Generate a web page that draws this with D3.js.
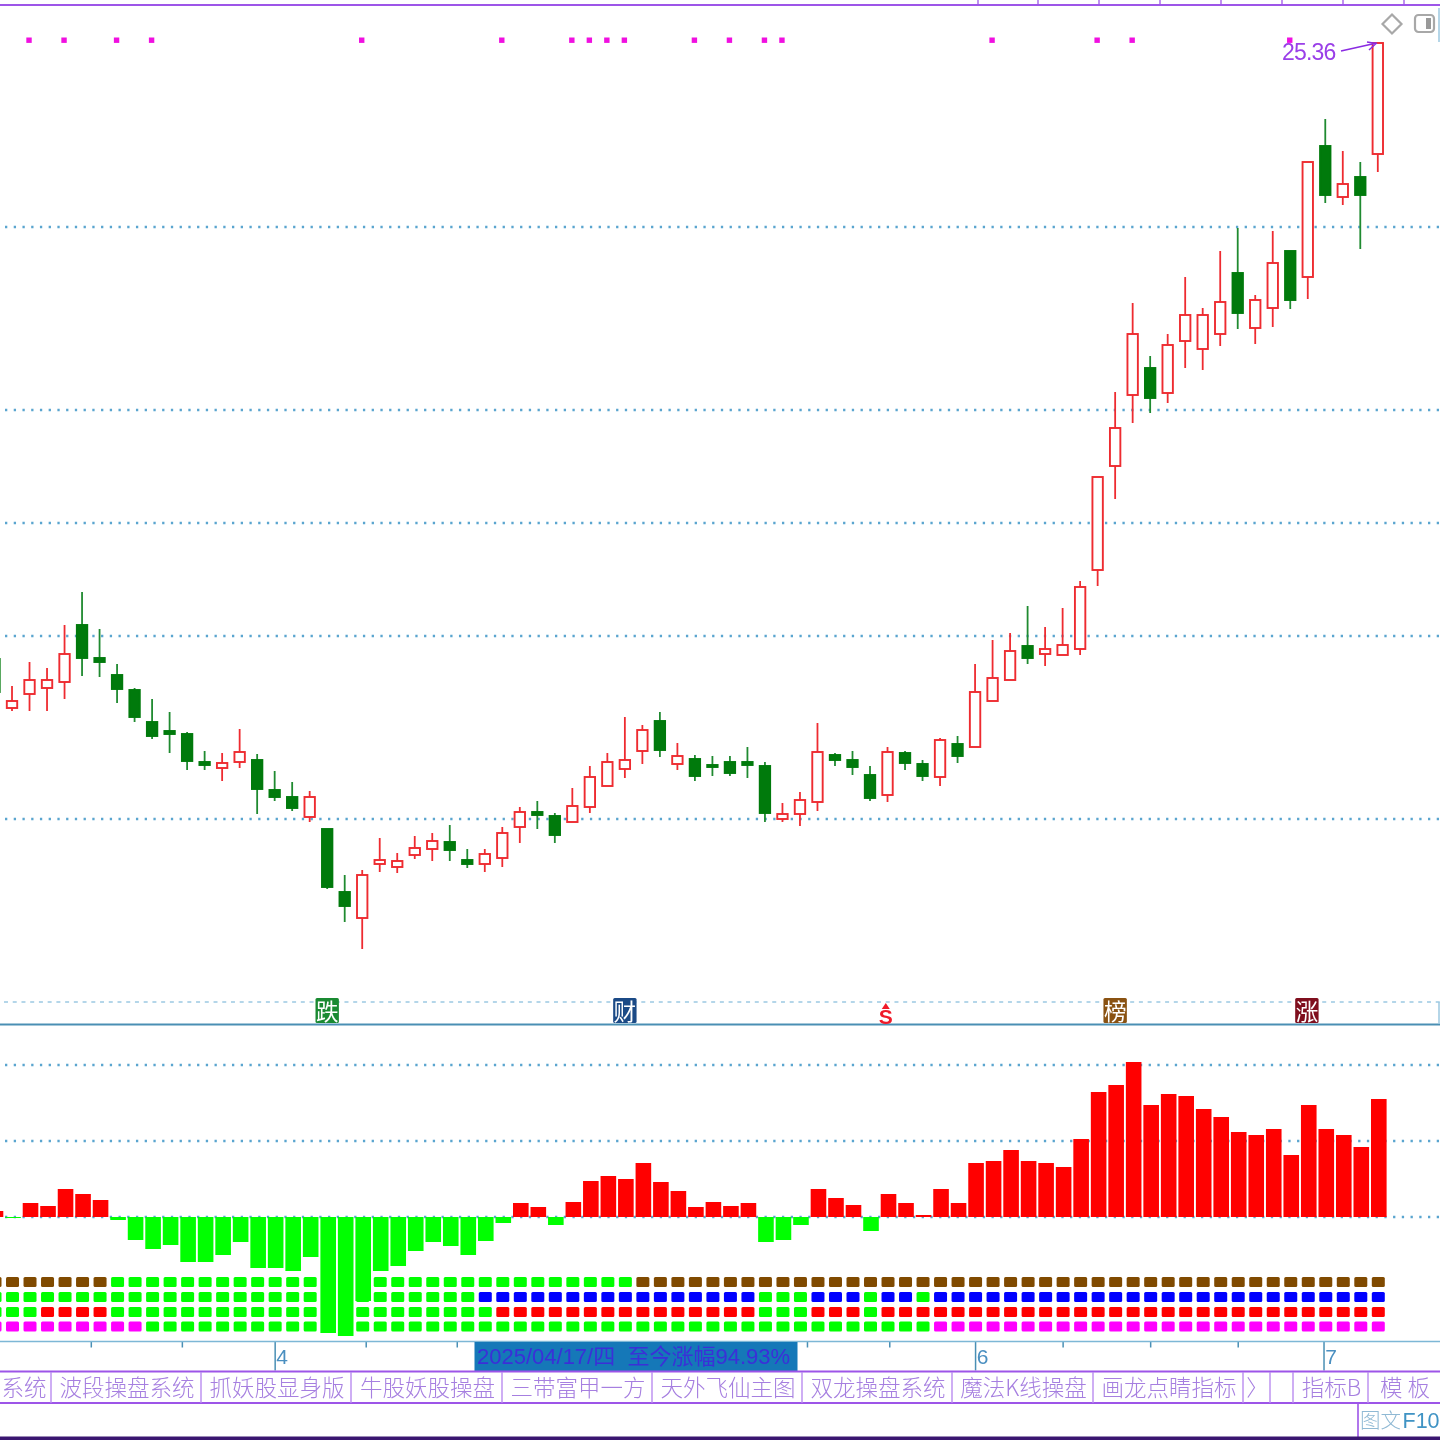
<!DOCTYPE html>
<html>
<head>
<meta charset="utf-8">
<script src="https://cdn.jsdelivr.net/npm/d3@7/dist/d3.min.js"></script>
<style>
html,body{margin:0;padding:0;background:#fff;width:1440px;height:1440px;overflow:hidden}
svg{display:block;filter:blur(0.6px)}
text{font-family:"Liberation Sans","Noto Sans CJK SC",sans-serif}
</style>
</head>
<body>
<svg id="chart" width="1440" height="1440"></svg>
<script>
const openPrice = [13.04,12.06,12.34,12.46,12.58,13.72,13.06,12.72,12.42,11.78,
  11.60,11.54,10.98,10.86,10.98,11.02,10.42,10.28,9.88,9.64,
  8.38,7.86,8.94,8.88,9.12,9.24,9.38,9.02,8.94,9.06,
  9.68,9.98,9.90,9.78,10.08,10.50,10.84,11.20,11.80,10.94,
  11.04,10.92,10.98,10.98,10.90,9.84,9.94,10.18,11.12,11.02,
  10.72,10.32,11.16,10.94,10.68,11.34,11.28,12.20,12.62,13.30,
  13.14,13.12,13.24,14.82,16.90,18.32,18.86,18.36,19.40,19.24,
  19.54,20.76,19.66,20.06,21.20,20.68,23.30,22.28,22.68,23.14];
const closePrice = [12.38,12.20,12.62,12.62,13.14,13.06,12.98,12.44,11.88,11.50,
  11.54,11.00,10.92,10.96,11.18,10.44,10.28,10.06,10.28,8.48,
  8.10,8.72,9.02,9.00,9.26,9.40,9.22,8.94,9.14,9.56,
  9.98,9.92,9.52,10.10,10.68,10.98,11.02,11.62,11.22,11.10,
  10.70,10.88,10.76,10.92,9.96,9.94,10.22,11.18,11.02,10.88,
  10.26,11.18,10.96,10.70,11.42,11.10,12.38,12.66,13.20,13.06,
  13.24,13.32,14.48,16.68,17.66,19.54,18.26,19.32,19.92,19.92,
  20.18,19.96,20.22,20.96,20.22,22.98,22.32,22.54,22.32,25.36];
const highPrice = [13.22,12.50,12.98,12.86,13.72,14.38,13.64,12.94,12.46,12.24,
  11.98,11.58,11.20,11.16,11.64,11.14,10.80,10.58,10.40,9.64,
  8.72,8.82,9.46,9.16,9.50,9.56,9.72,9.24,9.24,9.68,
  10.08,10.20,9.96,10.46,10.90,11.16,11.88,11.72,11.98,11.36,
  11.12,11.10,11.10,11.28,10.98,10.16,10.38,11.76,11.16,11.20,
  10.90,11.28,11.20,11.02,11.46,11.50,12.94,13.42,13.56,14.10,
  13.68,14.06,14.60,16.68,18.38,20.16,19.10,19.54,20.68,20.06,
  21.20,21.66,20.32,21.60,21.20,22.98,23.84,23.20,22.98,25.36];
const lowPrice = [12.22,12.00,12.00,12.00,12.24,12.70,12.68,12.16,11.78,11.44,
  11.16,10.82,10.82,10.60,10.86,9.94,10.20,10.00,9.78,8.44,
  7.78,7.24,8.78,8.76,9.04,9.00,9.00,8.86,8.78,8.88,
  9.36,9.64,9.36,9.78,9.96,10.50,10.66,10.94,11.08,10.82,
  10.60,10.70,10.70,10.66,9.78,9.78,9.70,10.00,10.90,10.72,
  10.20,10.18,10.82,10.60,10.50,10.96,11.28,12.20,12.62,12.94,
  12.90,13.12,13.12,14.50,16.24,17.76,17.96,18.16,18.86,18.82,
  19.30,19.64,19.34,19.68,20.04,20.24,22.16,22.12,21.24,22.78];
const momentum = [.06,-.01,.14,.11,.28,.23,.17,-.03,-.23,-.32,
  -.28,-.45,-.45,-.38,-.25,-.51,-.51,-.54,-.40,-1.16,
  -1.19,-.84,-.54,-.49,-.34,-.25,-.29,-.38,-.24,-.06,
  .14,.10,-.08,.15,.36,.41,.38,.54,.35,.26,
  .10,.15,.11,.14,-.25,-.23,-.08,.28,.19,.12,
  -.14,.23,.14,.02,.28,.14,.54,.56,.67,.56,
  .54,.50,.78,1.25,1.32,1.55,1.12,1.23,1.21,1.08,
  1.00,.85,.82,.88,.62,1.12,.88,.82,.70,1.18];
const rowRunsA = [[1,7],[0,30],[1,43]];
const rowRunsB = [[0,28],[1,16],[0,3],[1,3],[0,1],[1,2],[0,1],[1,26]];
const rowRunsC = [[0,3],[1,4],[0,22],[1,15],[0,3],[1,3],[0,1],[1,29]];
const rowRunsD = [[1,9],[0,45],[1,26]];
const signalBars = [2,4,7,9,21,29,33,34,35,36,40,42,44,45,57,63,65,74];
const priceGrid = [21.68,18.02,15.76,13.50,9.84];
const priceGridFaint = [6.18];
const momentumGrid = [1.52,0.76];
const minorTicks = [5.5,10.7,21.2,26.4,46.4,51.1,61,66,71];
const majorTicks = [16,56,75.9];
const majorLabels = ["4","6","7"];
const eventBars = [19,36,50.9,64,74.95];
const eventTexts = ["跌","财","S","榜","涨"];
const tabLabels = ["系统","波段操盘系统","抓妖股显身版","牛股妖股操盘","三带富甲一方","天外飞仙主图","双龙操盘系统","魔法K线操盘","画龙点睛指标","〉","","指标B","模 板"];
const tabEdges = [0,51,201,351,502,652,802,952,1093,1243,1270,1293,1368,1440];
const topTicks = [978,1038,1099,1160,1221,1282,1343,1404];

const PURPLE="#9d55e8", GRID="#5aa5cf", RED="#ee2b30", DGREEN="#007a0c";
const svg=d3.select("#chart");
const n=openPrice.length;
const x=d3.scaleLinear().domain([0,79]).range([-5.5,1377.8]);
const y=d3.scaleLinear().domain([0,26]).range([1311,11]);
const m=d3.scaleLinear().domain([0,1.55]).range([1217,1062]);

// top frame
svg.append("line").attr("x1",0).attr("x2",1440).attr("y1",5).attr("y2",5).attr("stroke",PURPLE).attr("stroke-width",2);
svg.selectAll(".tt").data(topTicks).join("line").attr("x1",d=>d).attr("x2",d=>d).attr("y1",0).attr("y2",5).attr("stroke",PURPLE).attr("stroke-width",1.3);

// grid
const dotted=(sel,col,op)=>sel.attr("stroke",col).attr("stroke-width",2.3).attr("stroke-dasharray","2.3 6.43").attr("opacity",op);
dotted(svg.selectAll(".g1").data(priceGrid).join("line").attr("x1",5).attr("x2",1440).attr("y1",d=>y(d)).attr("y2",d=>y(d)),GRID,1);
svg.selectAll(".g2").data(priceGridFaint).join("line").attr("x1",4).attr("x2",1440).attr("y1",d=>y(d)).attr("y2",d=>y(d)).attr("stroke",GRID).attr("stroke-width",1.6).attr("stroke-dasharray","4 4.73").attr("opacity",.6);
dotted(svg.selectAll(".g3").data(momentumGrid).join("line").attr("x1",5).attr("x2",1440).attr("y1",d=>m(d)).attr("y2",d=>m(d)),GRID,1);
dotted(svg.append("line").attr("x1",5).attr("x2",1440).attr("y1",m(0)).attr("y2",m(0)),GRID,1);

// separators
svg.append("line").attr("x1",0).attr("x2",1440).attr("y1",1024.5).attr("y2",1024.5).attr("stroke","#4a8fb4").attr("stroke-width",2);
svg.append("line").attr("x1",1439).attr("x2",1439).attr("y1",1002).attr("y2",1024).attr("stroke","#9cc8e0").attr("stroke-width",1.5);
svg.append("line").attr("x1",1439).attr("x2",1439).attr("y1",8).attr("y2",42).attr("stroke","#9cc8e0").attr("stroke-width",1.5);

// signal dots
svg.selectAll(".sig").data(signalBars).join("rect").attr("x",d=>x(d)-3.2).attr("y",37.5).attr("width",5.4).attr("height",5.4).attr("fill","#f010e0");

// candles
const idx=d3.range(n);
const up=i=>closePrice[i]>=openPrice[i];
const cg=svg.append("g");
cg.selectAll(".w").data(idx).join("line")
  .attr("x1",i=>x(i)).attr("x2",i=>x(i))
  .attr("y1",i=>y(highPrice[i])).attr("y2",i=>y(lowPrice[i]))
  .attr("stroke",i=>up(i)?RED:"#1f8a30").attr("stroke-width",1.8);
cg.selectAll(".b").data(idx).join("rect")
  .attr("x",i=>x(i)-5.2).attr("width",10.4)
  .attr("y",i=>y(Math.max(openPrice[i],closePrice[i])))
  .attr("height",i=>Math.abs(openPrice[i]-closePrice[i])*50)
  .attr("fill",i=>up(i)?"#fff":DGREEN)
  .attr("stroke",i=>up(i)?RED:DGREEN).attr("stroke-width",1.9);

// 25.36 label + arrow
svg.append("text").attr("x",1282).attr("y",60).attr("font-size",23).attr("letter-spacing",-0.8).attr("fill","#9a3fe8").text("25.36");
const arrow=d3.line()([[1341,51],[x(79)-1,y(25.36)]]);
svg.append("path").attr("d",arrow).attr("stroke","#8a2be2").attr("stroke-width",1.7).attr("fill","none");
svg.append("path").attr("d","M1367 42 L1376 43.5 L1369 50").attr("stroke","#8a2be2").attr("stroke-width",1.5).attr("fill","none");

// top-right icons
svg.append("path").attr("d","M1392 14.5 L1401.5 24 L1392 33.5 L1382.5 24 Z").attr("fill","#fff").attr("stroke","#a8a8a8").attr("stroke-width",2.2);
svg.append("rect").attr("x",1415).attr("y",15).attr("width",19).attr("height",17).attr("rx",3.5).attr("fill","#fff").attr("stroke","#a8a8a8").attr("stroke-width",2.2);
svg.append("rect").attr("x",1426).attr("y",18).attr("width",5).attr("height",11).attr("fill","#999");

// event badges
const evColors=["#1a8a32","#1b4a86",null,"#8a5212","#7f0f1e"];
eventBars.forEach((k,i)=>{
  const cx=x(k);
  if(evColors[i]){
    svg.append("rect").attr("x",cx-11.7).attr("y",998).attr("width",23.4).attr("height",25).attr("rx",1.5).attr("fill",evColors[i]);
    svg.append("text").attr("x",cx).attr("y",1019.5).attr("text-anchor","middle").attr("font-size",22.5).attr("fill","#fff").attr("style",'font-family:"Noto Sans CJK SC"').text(eventTexts[i]);
  } else {
    svg.append("path").attr("d",`M${cx-4} 1009 L${cx} 1003 L${cx+4} 1009 Z`).attr("fill","#f01a28");
    svg.append("text").attr("x",cx).attr("y",1023.5).attr("text-anchor","middle").attr("font-size",21).attr("font-weight","bold").attr("fill","#f01a28").text(eventTexts[i]);
  }
});

// dot rows
const rowColors=[["#00ff00","#804a00"],["#00ff00","#0000ff"],["#00ff00","#ff0000"],["#00ff00","#ff00ff"]];
const rowY=[1282,1297,1312,1326.5];
[rowRunsA,rowRunsB,rowRunsC,rowRunsD].forEach((runs,r)=>{
  const states=runs.flatMap(([s,c])=>d3.range(c).map(()=>s));
  svg.selectAll(".d"+r).data(states).join("rect")
    .attr("x",(s,i)=>x(i)-6).attr("y",rowY[r]-5).attr("width",13).attr("height",10).attr("rx",1.5)
    .attr("fill",s=>rowColors[r][s]);
});

// momentum bars
svg.selectAll(".mb").data(momentum).join("rect")
  .attr("x",(v,i)=>x(i)-6.8).attr("width",15.6)
  .attr("y",v=>Math.min(m(v),m(0)))
  .attr("height",v=>Math.abs(m(v)-m(0)))
  .attr("fill",v=>v>=0?"#ff0000":"#00ff00");

// bottom date axis
const axY=1341.5;
const minor=d3.axisBottom(x).tickValues(minorTicks).tickSize(6).tickFormat("");
const gMin=svg.append("g").attr("transform",`translate(0,${axY})`).call(minor);
gMin.select(".domain").remove();
gMin.selectAll("line").attr("stroke","#4a8fb4").attr("stroke-width",1.5);
const major=d3.axisBottom(x).tickValues(majorTicks).tickSize(29).tickPadding(-24).tickFormat((d,i)=>majorLabels[i]);
const gMaj=svg.append("g").attr("transform",`translate(0,${axY})`).call(major);
gMaj.select(".domain").remove();
gMaj.selectAll("line").attr("stroke","#4a8fb4").attr("stroke-width",1.5);
gMaj.selectAll("text").attr("dx",7).attr("dy",0).attr("y",22).attr("font-size",21).attr("fill","#4a8fc0").attr("text-anchor","middle").style("font-family",'"Liberation Sans"');
svg.append("line").attr("x1",0).attr("x2",1440).attr("y1",axY).attr("y2",axY).attr("stroke","#7db7d6").attr("stroke-width",1.4);

// date box
svg.append("rect").attr("x",474.5).attr("y",1342).attr("width",323).attr("height",29).attr("fill","#1578b8");
svg.append("text").attr("x",477).attr("y",1364).attr("font-size",22).attr("fill","#3b2fd8").style("white-space","pre").text("2025/04/17/四  至今涨幅94.93%");

// tab bar
svg.append("line").attr("x1",0).attr("x2",1440).attr("y1",1371.5).attr("y2",1371.5).attr("stroke",PURPLE).attr("stroke-width",2);
svg.append("line").attr("x1",0).attr("x2",1440).attr("y1",1403).attr("y2",1403).attr("stroke",PURPLE).attr("stroke-width",2);
svg.selectAll(".te").data(tabEdges.slice(1,-1)).join("line").attr("x1",d=>d).attr("x2",d=>d).attr("y1",1372).attr("y2",1403).attr("stroke","#b98cf0").attr("stroke-width",1.4);
svg.selectAll(".tl").data(tabLabels).join("text")
  .attr("x",(d,i)=>i===0?24:(tabEdges[i]+tabEdges[i+1])/2+1)
  .attr("y",1396).attr("text-anchor","middle").attr("font-size",22.5).attr("font-weight",300)
  .attr("fill","#a67fe0").style("font-family",'"Noto Sans CJK SC"').text(d=>d);

// bottom strip
svg.append("line").attr("x1",1358).attr("x2",1358).attr("y1",1403).attr("y2",1437).attr("stroke",PURPLE).attr("stroke-width",1.6);
const f10=svg.append("text").attr("x",1360).attr("y",1428).attr("font-size",20.5).style("font-family",'"Liberation Sans","Noto Sans CJK SC"');
f10.append("tspan").attr("fill","#8fb9d4").attr("font-weight",300).text("图文");
f10.append("tspan").attr("fill","#3f93c4").attr("dx",1.5).attr("font-size",21.5).text("F10");
svg.append("rect").attr("x",0).attr("y",1436.5).attr("width",1440).attr("height",3.5).attr("fill","#3a1670");
</script>
</body>
</html>
